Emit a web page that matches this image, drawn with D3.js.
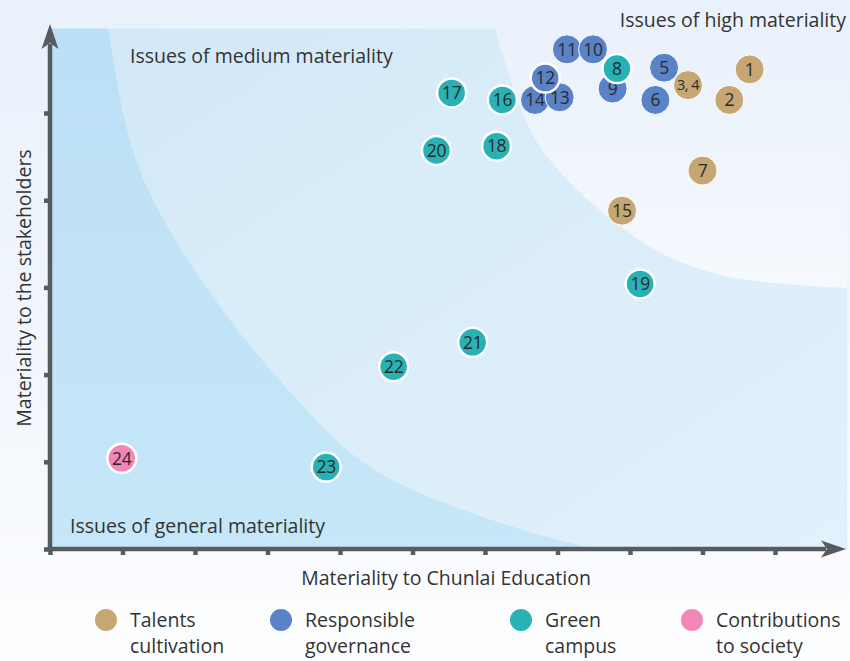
<!DOCTYPE html>
<html>
<head>
<meta charset="utf-8">
<script src="https://cdn.jsdelivr.net/npm/d3@7"></script>
<style>
html,body{margin:0;padding:0;background:#ffffff;}
svg{display:block;}
text{font-family:"Open Sans",sans-serif;}
</style>
</head>
<body>
<div id="chart"></div>
<script>
// ---------- data ----------
const categories = ["Talents cultivation", "Responsible governance", "Green campus", "Contributions to society"];
const legendLines = [["Talents", "cultivation"], ["Responsible", "governance"], ["Green", "campus"], ["Contributions", "to society"]];
const categoryColors = ["#c6a672", "#5a82c6", "#28b2b5", "#f286b7"];

const issueLabels = ["1","2","3, 4","5","6","7","8","9","10","11","12","13","14","15","16","17","18","19","20","21","22","23","24"];
const issueCategory = [0,0,0,1,1,0,2,1,1,1,1,1,1,0,2,2,2,2,2,2,2,2,3];
// materiality to Chunlai Education (x) and to the stakeholders (y), in tick units
const issueX = [9.65,9.37,8.80,8.47,8.35,9.00,7.82,7.76,7.49,7.13,6.83,7.03,6.69,7.89,6.24,5.54,6.16,8.14,5.33,5.83,4.74,3.81,0.99];
const issueY = [5.50,5.15,5.32,5.52,5.15,4.34,5.51,5.28,5.73,5.73,5.40,5.18,5.15,3.88,5.15,5.23,4.62,3.04,4.57,2.37,2.09,0.94,1.04];

const xTicks = [0,1,2,3,4,5,6,7,8,9,10];
const yTicks = [0,1,2,3,4,5];

// zone boundaries (tick units)
const generalBoundary = [[0.80,6.00],[0.91,5.38],[1.08,4.69],[1.38,4.00],[2.07,3.08],[2.79,2.28],[3.41,1.71],[4.01,1.16],[4.70,0.77],[5.60,0.47],[6.63,0.18],[7.52,0.00]];
const highBoundary = [[6.11,6.30],[6.12,5.97],[6.30,5.53],[6.52,4.95],[6.76,4.58],[7.21,4.15],[7.68,3.81],[8.28,3.43],[8.97,3.19],[9.66,3.06],[11.03,2.99]];

const zoneLabels = ["Issues of high materiality", "Issues of medium materiality", "Issues of general materiality"];
const xTitle = "Materiality to Chunlai Education";
const yTitle = "Materiality to the stakeholders";

// ---------- layout ----------
const W = 850, H = 661;
const x = d3.scaleLinear().domain([0, 10]).range([50, 775]);
const y = d3.scaleLinear().domain([0, 5]).range([549, 113]);
const xMax = 10.98, yMax = 6.02;
const plotTop = y(5.97), plotRight = 847;

const svg = d3.select("#chart").append("svg").attr("width", W).attr("height", H);
const defs = svg.append("defs");

function lin(id, x1, y1, x2, y2, stops) {
  const g = defs.append("linearGradient").attr("id", id)
    .attr("x1", x1).attr("y1", y1).attr("x2", x2).attr("y2", y2);
  stops.forEach(s => g.append("stop").attr("offset", s[0]).attr("stop-color", s[1]));
}
lin("pageBg", 0, 0, 0, 1, [[0, "#e9f1fb"], [0.6, "#f3f7fd"], [1, "#fdfeff"]]);
lin("medBg", 0, 0, 1, 1, [[0, "#d2e8f8"], [0.5, "#daedf9"], [1, "#e2f1fb"]]);
lin("genBg", 0, 0, 0, 1, [[0, "#bbdff6"], [1, "#c6e7f8"]]);
lin("highBg", 0, 0, 0, 1, [[0, "#e8f0fa"], [1, "#f6f9fe"]]);

svg.append("rect").attr("width", W).attr("height", H).attr("fill", "url(#pageBg)");

defs.append("clipPath").attr("id", "plotClip").append("rect")
  .attr("x", x(0)).attr("y", plotTop).attr("width", plotRight - x(0)).attr("height", y(0) - plotTop);

const zones = svg.append("g").attr("clip-path", "url(#plotClip)");
zones.append("rect").attr("x", x(0)).attr("y", plotTop).attr("width", plotRight - x(0)).attr("height", y(0) - plotTop)
  .attr("fill", "url(#medBg)");

const curve = d3.line().x(d => x(d[0])).y(d => y(d[1])).curve(d3.curveBasis);
zones.append("path")
  .attr("d", curve(generalBoundary) + "L" + x(-0.2) + "," + y(-0.2) + "L" + x(-0.2) + "," + y(6.3) + "Z")
  .attr("fill", "url(#genBg)");
zones.append("path")
  .attr("d", curve(highBoundary) + "L" + x(11.2) + "," + y(2.99) + "L" + x(11.2) + "," + y(6.4) + "Z")
  .attr("fill", "url(#highBg)");

// zone labels
const labelStyle = sel => sel.attr("font-size", 19.5).attr("fill", "#333333");
svg.append("text").text(zoneLabels[0]).attr("x", 846).attr("y", 26.5).attr("text-anchor", "end").call(labelStyle);
svg.append("text").text(zoneLabels[1]).attr("x", 130).attr("y", 63).call(labelStyle);
svg.append("text").text(zoneLabels[2]).attr("x", 70).attr("y", 533).call(labelStyle);

// ---------- axes ----------
const axisColor = "#565b60";
const xAxis = svg.append("g").attr("transform", `translate(0,${y(0)})`)
  .call(d3.axisBottom(x).tickValues(xTicks).tickSize(6).tickSizeOuter(0).tickFormat(""));
const yAxis = svg.append("g").attr("transform", `translate(${x(0)},0)`)
  .call(d3.axisLeft(y).tickValues(yTicks).tickSize(6).tickSizeOuter(0).tickFormat(""));
[xAxis, yAxis].forEach(a => {
  a.select(".domain").remove();
  a.selectAll(".tick line").attr("stroke", axisColor).attr("stroke-width", 4.5);
});
// axis lines with arrow heads
svg.append("line").attr("x1", x(0) - 2.25).attr("x2", x(xMax) - 20).attr("y1", y(0)).attr("y2", y(0))
  .attr("stroke", axisColor).attr("stroke-width", 4.5);
svg.append("line").attr("x1", x(0)).attr("x2", x(0)).attr("y1", y(0) + 2.25).attr("y2", y(yMax) + 20)
  .attr("stroke", axisColor).attr("stroke-width", 4.5);
const tipX = x(xMax), ax = y(0);
svg.append("path").attr("fill", axisColor)
  .attr("d", `M${tipX},${ax}L${tipX - 25},${ax - 8.5}L${tipX - 19},${ax}L${tipX - 25},${ax + 8.5}Z`);
const tipY = y(yMax), ay = x(0);
svg.append("path").attr("fill", axisColor)
  .attr("d", `M${ay},${tipY}L${ay - 8.5},${tipY + 25}L${ay},${tipY + 19}L${ay + 8.5},${tipY + 25}Z`);

svg.append("text").text(xTitle).attr("x", 446).attr("y", 585).attr("text-anchor", "middle")
  .attr("font-size", 19.5).attr("fill", "#333333");
svg.append("text").text(yTitle).attr("transform", `translate(31,288) rotate(-90)`).attr("text-anchor", "middle")
  .attr("font-size", 19.5).attr("fill", "#333333");

// ---------- points ----------
const issues = issueLabels.map((l, i) => ({label: l, cat: issueCategory[i], x: issueX[i], y: issueY[i]}));
const pts = svg.append("g").selectAll("g").data(issues.slice().reverse()).join("g")
  .attr("transform", d => `translate(${x(d.x)},${y(d.y)})`);
pts.append("circle").attr("r", 14.5)
  .attr("fill", d => categoryColors[d.cat])
  .attr("stroke", "#ffffff").attr("stroke-width", d => (d.cat >= 2 || d.label === "12" || d.label === "8") ? 2.5 : 1);
pts.append("text").text(d => d.label)
  .attr("text-anchor", "middle").attr("dy", "0.36em")
  .attr("font-size", d => d.label.length > 2 ? 14.5 : 17.5)
  .attr("letter-spacing", d => d.label.length > 2 ? -0.5 : -0.3)
  .attr("fill", "#2a2a2a");

// ---------- legend ----------
const legendX = [106, 281, 521, 692];
const leg = svg.append("g").selectAll("g").data(categories).join("g")
  .attr("transform", (d, i) => `translate(${legendX[i]},620)`);
leg.append("circle").attr("r", 11).attr("fill", (d, i) => categoryColors[i]);
leg.append("text").attr("x", 24).attr("font-size", 19.5).attr("fill", "#333333")
  .selectAll("tspan").data((d, i) => legendLines[i]).join("tspan")
  .attr("x", 24).attr("y", (d, j) => 7 + j * 26).text(d => d);
</script>
</body>
</html>
